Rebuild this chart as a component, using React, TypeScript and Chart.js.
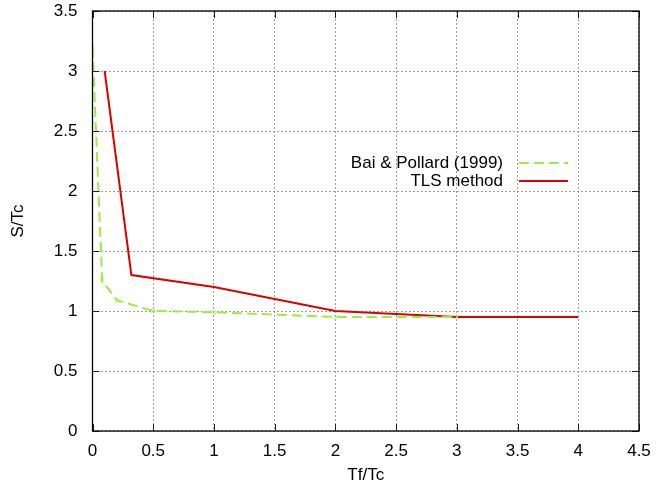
import React, { useEffect, useRef } from "react";
import { Chart, registerables } from "chart.js";
Chart.register(...registerables);

const baiX = [0, 0.08, 0.2, 0.5, 1, 2, 3];
const baiY = [3.2, 1.25, 1.09, 1.0, 0.99, 0.95, 0.95];
const tlsX = [0.1, 0.32, 1, 2, 3, 4];
const tlsY = [3.0, 1.3, 1.2, 1.0, 0.95, 0.95];

const xTickValues = [0, 0.5, 1, 1.5, 2, 2.5, 3, 3.5, 4, 4.5];
const xTickLabels = ["0", "0.5", "1", "1.5", "2", "2.5", "3", "3.5", "4", "4.5"];
const yTickValues = [0, 0.5, 1, 1.5, 2, 2.5, 3, 3.5];
const yTickLabels = ["0", "0.5", "1", "1.5", "2", "2.5", "3", "3.5"];

const seriesNames = ["Bai & Pollard (1999)", "TLS method"];
const seriesColors = ["#99ee44", "#dd0000"];
const xTitle = "Tf/Tc";
const yTitle = "S/Tc";

const FONT = "17px 'Liberation Sans', Arial, Helvetica, sans-serif";

const framePlugin = {
  id: "frame",
  afterDraw(chart: any) {
    const { ctx, chartArea } = chart;
    const { left, right, top, bottom } = chartArea;
    const xs = chart.scales.x;
    const ys = chart.scales.y;
    ctx.save();
    // ticks
    ctx.strokeStyle = "#222";
    ctx.lineWidth = 1;
    const tl = 7;
    ctx.beginPath();
    xTickValues.forEach((v) => {
      const px = Math.round(xs.getPixelForValue(v)) + 0.5;
      ctx.moveTo(px, bottom);
      ctx.lineTo(px, bottom - tl);
      ctx.moveTo(px, top);
      ctx.lineTo(px, top + tl);
    });
    yTickValues.forEach((v) => {
      const py = Math.round(ys.getPixelForValue(v)) + 0.5;
      ctx.moveTo(left, py);
      ctx.lineTo(left + tl, py);
      ctx.moveTo(right, py);
      ctx.lineTo(right - tl, py);
    });
    ctx.stroke();
    // border
    ctx.strokeStyle = "#000";
    ctx.lineWidth = 1.3;
    ctx.strokeRect(left, top, right - left, bottom - top);
    // axis titles
    ctx.fillStyle = "#000";
    ctx.font = FONT;
    ctx.textAlign = "center";
    ctx.textBaseline = "middle";
    ctx.fillText(xTitle, (left + right) / 2, 475);
    ctx.save();
    ctx.translate(18.5, (top + bottom) / 2);
    ctx.rotate(-Math.PI / 2);
    ctx.fillText(yTitle, 0, 0);
    ctx.restore();
    // legend
    const textRight = 503;
    const rows = [163, 181];
    ctx.textAlign = "right";
    rows.forEach((y, i) => {
      ctx.fillStyle = "#000";
      ctx.fillText(seriesNames[i], textRight, y);
      ctx.strokeStyle = seriesColors[i];
      ctx.lineWidth = 2;
      ctx.setLineDash(i === 0 ? [10, 5] : []);
      ctx.beginPath();
      ctx.moveTo(519, y);
      ctx.lineTo(568, y);
      ctx.stroke();
    });
    ctx.setLineDash([]);
    ctx.restore();
  },
};

export default function App() {
  const ref = useRef<HTMLCanvasElement | null>(null);
  useEffect(() => {
    if (!ref.current) return;
    const chart = new Chart(ref.current, {
      type: "scatter",
      data: {
        datasets: [
          {
            label: seriesNames[0],
            data: baiX.map((x, i) => ({ x, y: baiY[i] })),
            showLine: true,
            borderColor: seriesColors[0],
            backgroundColor: seriesColors[0],
            borderWidth: 2,
            borderDash: [10, 5],
            pointStyle: "crossRot",
            pointRadius: 3,
            pointBorderWidth: 1,
            tension: 0,
          },
          {
            label: seriesNames[1],
            data: tlsX.map((x, i) => ({ x, y: tlsY[i] })),
            showLine: true,
            borderColor: seriesColors[1],
            backgroundColor: seriesColors[1],
            borderWidth: 2,
            pointRadius: 0,
            tension: 0,
          },
        ],
      },
      options: {
        animation: false,
        responsive: false,
        devicePixelRatio: 1,
        layout: { padding: { top: 11, right: 18, left: 0, bottom: 0 } },
        plugins: { legend: { display: false }, tooltip: { enabled: false } },
        scales: {
          x: {
            type: "linear",
            min: 0,
            max: 4.5,
            afterBuildTicks: (s: any) => {
              s.ticks = xTickValues.map((v) => ({ value: v }));
            },
            afterFit: (s: any) => {
              s.height = 58;
              s.paddingLeft = 0;
              s.paddingRight = 0;
              s.paddingTop = 0;
              s.paddingBottom = 0;
            },
            ticks: {
              padding: 10,
              color: "#000",
              font: { family: "'Liberation Sans', Arial, sans-serif", size: 17 },
              maxRotation: 0,
              autoSkip: false,
              callback: (v: any) => {
                const i = xTickValues.indexOf(Number(v));
                return i >= 0 ? xTickLabels[i] : "";
              },
            },
            grid: { color: "#a0a0a0", lineWidth: 1, drawTicks: false },
            border: { display: false, dash: [2, 2] },
          },
          y: {
            type: "linear",
            min: 0,
            max: 3.5,
            afterBuildTicks: (s: any) => {
              s.ticks = yTickValues.map((v) => ({ value: v }));
            },
            afterFit: (s: any) => {
              s.width = 92.5;
              s.paddingLeft = 0;
              s.paddingRight = 0;
              s.paddingTop = 0;
              s.paddingBottom = 0;
            },
            ticks: {
              padding: 15,
              color: "#000",
              font: { family: "'Liberation Sans', Arial, sans-serif", size: 17 },
              autoSkip: false,
              callback: (v: any) => {
                const i = yTickValues.indexOf(Number(v));
                return i >= 0 ? yTickLabels[i] : "";
              },
            },
            grid: { color: "#a0a0a0", lineWidth: 1, drawTicks: false },
            border: { display: false, dash: [2, 2] },
          },
        },
      },
      plugins: [framePlugin],
    });
    return () => chart.destroy();
  }, []);
  return (
    <div style={{ position: "absolute", left: 0, top: 0, width: 657, height: 489, background: "#fff" }}>
      <canvas ref={ref} width={657} height={489} />
    </div>
  );
}
